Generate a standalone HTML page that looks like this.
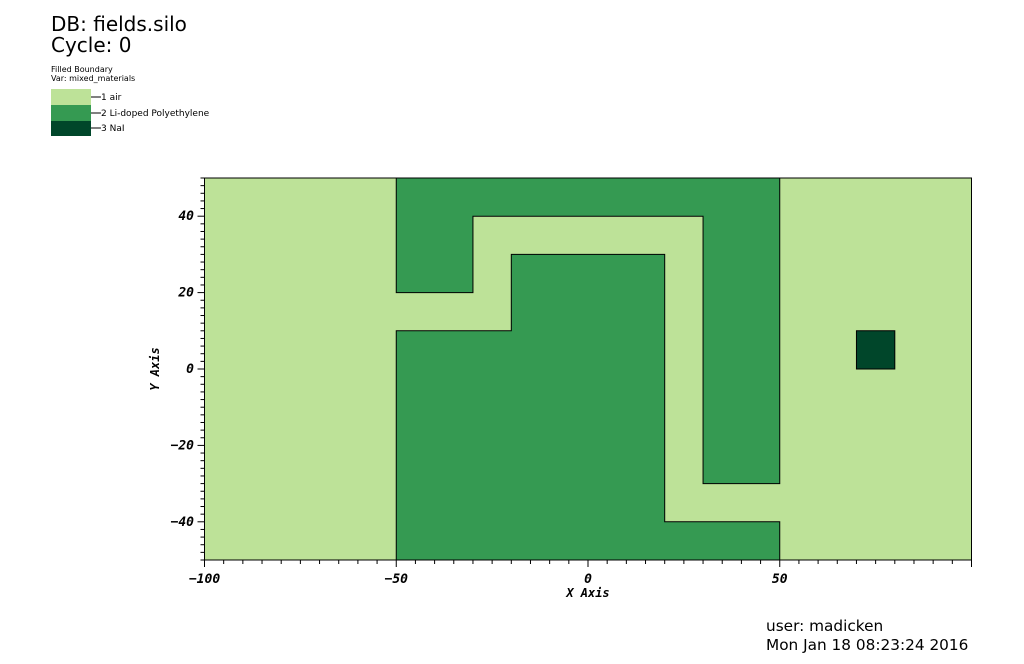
<!DOCTYPE html>
<html><head><meta charset="utf-8"><style>
body{margin:0;background:#fff;width:1024px;height:660px;overflow:hidden;font-family:"DejaVu Sans","Liberation Sans",sans-serif}
</style></head><body>
<svg width="1024" height="660">
<g font-family="DejaVu Sans, Liberation Sans, sans-serif" fill="#000">
<text x="51" y="31" font-size="20">DB: fields.silo</text>
<text x="51" y="52" font-size="20">Cycle: 0</text>
<text x="51" y="72" font-size="8">Filled Boundary</text>
<text x="51" y="81" font-size="8">Var: mixed_materials</text>
<g>
<rect x="51" y="89" width="40" height="16" fill="#bde298"/><rect x="51" y="105" width="40" height="16" fill="#359a52"/><rect x="51" y="121" width="40" height="15" fill="#00462a"/>
<line x1="91" y1="97" x2="101" y2="97" stroke="#000"/><line x1="91" y1="113" x2="101" y2="113" stroke="#000"/><line x1="91" y1="128" x2="101" y2="128" stroke="#000"/>
<text x="101" y="100" font-size="9">1 air</text>
<text x="101" y="116" font-size="9">2 Li-doped Polyethylene</text>
<text x="101" y="131" font-size="9">3 NaI</text>
</g>
<text x="766" y="631" font-size="15.3">user: madicken</text>
<text x="766" y="650" font-size="15.3">Mon Jan 18 08:23:24 2016</text>
</g>
<g id="plot"></g>
</svg>
<script>
const xTicks=[-100,-50,0,50];
const yTicks=[-40,-20,0,20,40];
const airBox=[[-100,-50],[100,-50],[100,50],[-100,50]];
const polyA=[[-50,50],[50,50],[50,-30],[30,-30],[30,40],[-30,40],[-30,20],[-50,20]];
const polyB=[[-50,10],[-20,10],[-20,30],[20,30],[20,-40],[50,-40],[50,-50],[-50,-50]];
const naI=[[70,0],[80,0],[80,10],[70,10]];
const X=v=>588+v*3.835, Y=v=>369-v*3.82;
const g=document.getElementById('plot');
const NS='http://www.w3.org/2000/svg';
function mk(t,a){const e=document.createElementNS(NS,t);for(const k in a)e.setAttribute(k,a[k]);g.appendChild(e);return e;}
function poly(p,fill,stroke,name){const e=mk('polygon',{points:p.map(q=>X(q[0])+','+Y(q[1])).join(' '),fill:fill,stroke:stroke,'stroke-width':1});

}
poly(airBox,'#bde298','#000','region-air');
poly(polyA,'#359a52','#000','region-polyethylene-upper');
poly(polyB,'#359a52','#000','region-polyethylene-lower');
poly(naI,'#00462a','#000','region-nai');
for(let v=-100;v<=100;v+=5){const maj=v%50===0;mk('line',{x1:X(v),x2:X(v),y1:Y(-50),y2:Y(-50)+(maj?7:4),stroke:'#000'});}
for(let v=-50;v<=50;v+=2){const maj=v%20===0;mk('line',{x1:X(-100),x2:X(-100)-(maj?7:4),y1:Y(v),y2:Y(v),stroke:'#000'});}
const tf={'font-size':13,'font-weight':'bold','font-style':'italic','font-family':'DejaVu Sans Mono, Liberation Mono, monospace'};
xTicks.forEach(v=>{const t=mk('text',Object.assign({x:X(v),y:583,'text-anchor':'middle'},tf));t.textContent=v===0?'0':String(v).replace('-','\u2212');

});
yTicks.forEach(v=>{const t=mk('text',Object.assign({x:194,y:Y(v)+4,'text-anchor':'end'},tf));t.textContent=String(v).replace('-','\u2212');

});
const xl=mk('text',Object.assign({x:588,y:597,'text-anchor':'middle'},tf,{'font-size':12}));xl.textContent='X Axis';


const yl=mk('text',Object.assign({x:0,y:0,transform:'translate(159,369) rotate(-90)','text-anchor':'middle'},tf,{'font-size':12}));yl.textContent='Y Axis';


</script>
</body></html>
